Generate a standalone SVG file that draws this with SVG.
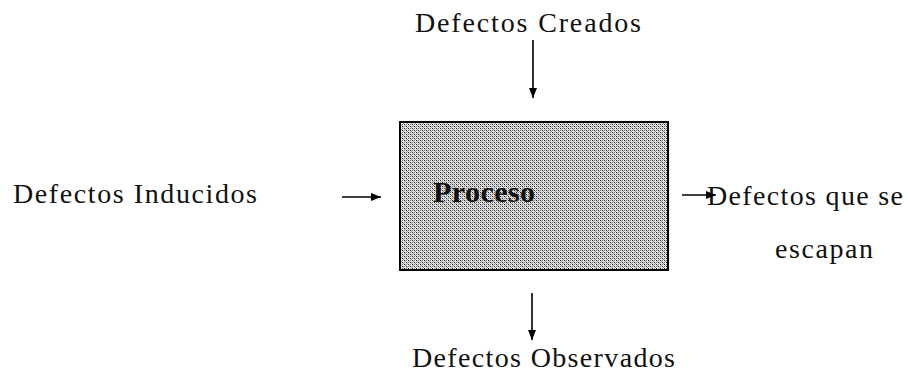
<svg xmlns="http://www.w3.org/2000/svg" width="907" height="374" viewBox="0 0 907 374">
<style>
.t{font-family:"Liberation Serif","Times New Roman",serif;font-size:28px;fill:#111}
.b{font-family:"Liberation Serif","Times New Roman",serif;font-size:30px;font-weight:bold;fill:#111}
.c{stroke:#000;stroke-width:1.6;fill:none;marker-end:url(#ah)}
</style>
<defs>
<marker id="ah" viewBox="0 0 10 8" refX="10" refY="4" markerWidth="10" markerHeight="8" markerUnits="userSpaceOnUse" orient="auto">
<path d="M0,0 L10,4 L0,8 Z" fill="#000"/>
</marker>
<pattern id="dots" width="4" height="4" patternUnits="userSpaceOnUse">
<rect width="4" height="4" fill="#e4e4e4"/>
<rect x="0" y="0" width="1" height="1" fill="#222"/>
<rect x="2" y="2" width="1" height="1" fill="#222"/>
<rect x="2" y="0" width="1" height="1" fill="#777"/>
<rect x="0" y="2" width="1" height="1" fill="#777"/>
<rect x="1" y="1" width="1" height="1" fill="#999"/>
<rect x="3" y="3" width="1" height="1" fill="#999"/>
</pattern>
</defs>
<g id="proceso">
<rect x="400" y="122" width="268" height="148" fill="url(#dots)" stroke="#000" stroke-width="2"/>
<text class="b" x="433" y="202" textLength="102">Proceso</text>
</g>
<g id="creados">
<text class="t" x="415" y="32" textLength="226">Defectos Creados</text>
</g>
<g id="inducidos">
<text class="t" x="13" y="203" textLength="244">Defectos Inducidos</text>
</g>
<g id="escapan">
<text class="t" x="707" y="205" textLength="196">Defectos que se</text>
<text class="t" x="775" y="258" textLength="98">escapan</text>
</g>
<g id="observados">
<text class="t" x="412" y="367" textLength="263">Defectos Observados</text>
</g>
<g id="connectors">
<line class="c" x1="533" y1="40" x2="533" y2="98"/>
<line class="c" x1="342" y1="197" x2="381" y2="197"/>
<line class="c" x1="682" y1="195" x2="716" y2="195"/>
<line class="c" x1="532" y1="293" x2="532" y2="340"/>
</g>
</svg>
